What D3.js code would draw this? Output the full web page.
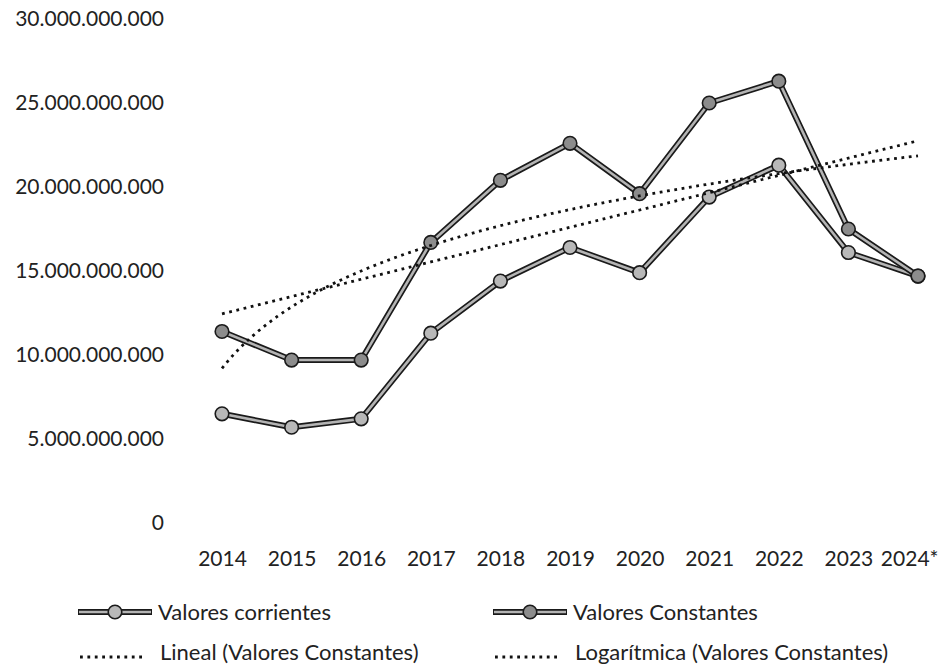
<!DOCTYPE html>
<html>
<head>
<meta charset="utf-8">
<script src="https://cdn.jsdelivr.net/npm/d3@7"></script>
<style>
  body { margin: 0; background: #fff; }
  text { font-family: Lato, "Open Sans", sans-serif; fill: #222; }
</style>
</head>
<body>
<div id="chart"></div>
<script>
// years on the x axis (2024 is an estimate, hence the *)
const years = ["2014", "2015", "2016", "2017", "2018", "2019", "2020", "2021", "2022", "2023", "2024*"];
const valoresCorrientes = [6.5e9, 5.7e9, 6.2e9, 11.3e9, 14.4e9, 16.4e9, 14.9e9, 19.4e9, 21.3e9, 16.1e9, 14.7e9];
const valoresConstantes = [11.4e9, 9.7e9, 9.7e9, 16.7e9, 20.4e9, 22.6e9, 19.6e9, 25.0e9, 26.3e9, 17.5e9, 14.7e9];
const yTicks = [0, 5e9, 10e9, 15e9, 20e9, 25e9, 30e9];

const width = 948, height = 667;

const svg = d3.select("#chart").append("svg")
    .attr("width", width)
    .attr("height", height);

svg.append("rect").attr("width", width).attr("height", height).attr("fill", "#fff");

const x = d3.scalePoint().domain(years).range([222, 918]);
const y = d3.scaleLinear().domain([0, 30e9]).range([523, 19]);

const locale = d3.formatLocale({decimal: ",", thousands: ".", grouping: [3], currency: ["", ""]});
const fmt = locale.format(",");

// Y axis (labels only)
const yAxis = svg.append("g")
    .attr("transform", "translate(170,0)")
    .call(d3.axisLeft(y).tickValues(yTicks).tickFormat(fmt).tickSize(0).tickPadding(6));
yAxis.select(".domain").remove();
yAxis.selectAll("text").style("font-size", "21px").style("font-family", "Lato, sans-serif").attr("fill", "#222");

// X axis (labels only)
const xAxis = svg.append("g")
    .attr("transform", "translate(0,548)")
    .call(d3.axisBottom(x).tickSize(0).tickPadding(3));
xAxis.select(".domain").remove();
xAxis.selectAll("text").style("font-size", "21px").style("font-family", "Lato, sans-serif").attr("fill", "#222");
// last label is pushed in from the right edge, as in the original
xAxis.selectAll(".tick").filter(d => d === "2024*").select("text")
    .attr("text-anchor", "end").attr("x", 20);

// draw a series with the double-edged grey line + circle markers
function drawSeries(values, markerFill) {
    const pts = values.map((v, i) => [x(years[i]), y(v)]);
    const line = d3.line();
    svg.append("path").attr("d", line(pts))
        .attr("fill", "none").attr("stroke", "#1a1a1a").attr("stroke-width", 6)
        .attr("stroke-linejoin", "round");
    svg.append("path").attr("d", line(pts))
        .attr("fill", "none").attr("stroke", "#b4b4b4").attr("stroke-width", 2.6)
        .attr("stroke-linejoin", "round");
    svg.append("g").selectAll("circle")
        .data(pts)
        .enter().append("circle")
        .attr("cx", d => d[0]).attr("cy", d => d[1]).attr("r", 6.8)
        .attr("fill", markerFill).attr("stroke", "#1a1a1a").attr("stroke-width", 1.6);
}

drawSeries(valoresCorrientes, "#b8b8b8");
drawSeries(valoresConstantes, "#8c8c8c");

// trendlines fitted to Valores Constantes (least squares, like the spreadsheet does)
function fit(fx) {
    const xs = valoresConstantes.map((v, i) => fx(i));
    const mx = d3.mean(xs), my = d3.mean(valoresConstantes);
    let sxy = 0, sxx = 0;
    xs.forEach((xv, i) => { sxy += (xv - mx) * (valoresConstantes[i] - my); sxx += (xv - mx) * (xv - mx); });
    const b = sxy / sxx;
    return t => my + b * (fx(t) - mx);
}
const linFit = fit(t => t);
const logFit = fit(t => Math.log(t + 1));
const xIdx = d3.scaleLinear().domain([0, years.length - 1]).range([222, 918]);

function drawTrend(f) {
    const samples = d3.range(0, years.length - 1 + 0.001, 0.05);
    svg.append("path")
        .attr("d", d3.line()(samples.map(t => [xIdx(t), y(f(t))])))
        .attr("fill", "none").attr("stroke", "#111").attr("stroke-width", 2.8)
        .attr("stroke-dasharray", "2.8 4.6");
}
drawTrend(linFit);
drawTrend(logFit);

// Legend
const legend = [
    {label: "Valores corrientes", kind: "series", fill: "#b8b8b8", x: 78, y: 612},
    {label: "Valores Constantes", kind: "series", fill: "#8c8c8c", x: 493, y: 612},
    {label: "Lineal (Valores Constantes)", kind: "trend", x: 78, y: 657},
    {label: "Logarítmica (Valores Constantes)", kind: "trend", x: 493, y: 657}
];
legend.forEach(d => {
    const g = svg.append("g").attr("transform", `translate(${d.x},${d.y})`);
    if (d.kind === "series") {
        g.append("line").attr("x1", 0).attr("x2", 74).attr("stroke", "#1a1a1a").attr("stroke-width", 6);
        g.append("line").attr("x1", 1).attr("x2", 73).attr("stroke", "#b4b4b4").attr("stroke-width", 2.6);
        g.append("circle").attr("cx", 37).attr("r", 6.8).attr("fill", d.fill)
            .attr("stroke", "#1a1a1a").attr("stroke-width", 1.6);
        g.append("text").attr("x", 80).attr("dy", "0.35em").style("font-size", "22px").text(d.label);
    } else {
        g.append("line").attr("x1", 2).attr("x2", 68).attr("stroke", "#111").attr("stroke-width", 2.8)
            .attr("stroke-dasharray", "2.8 4.6");
        g.append("text").attr("x", 82).attr("dy", "0.15em").style("font-size", "22px").text(d.label);
    }
});
</script>
</body>
</html>
